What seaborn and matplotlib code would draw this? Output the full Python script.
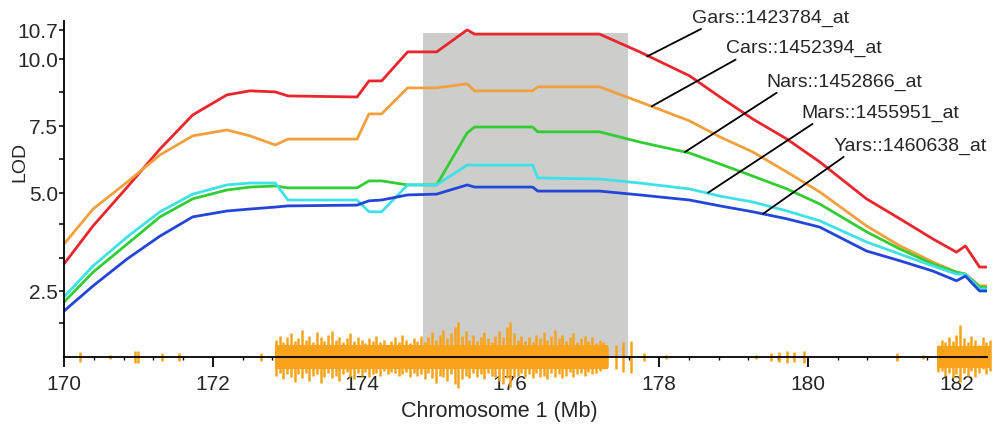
import numpy as np
import pandas as pd
import matplotlib
matplotlib.use("Agg")
import matplotlib.pyplot as plt
import matplotlib.transforms as mtransforms
import seaborn as sns

# posições no cromossomo 1 (Mb)
mb = [170.00, 170.39, 170.85, 171.29, 171.73, 172.19, 172.50, 172.84, 173.01, 173.94,
      174.10, 174.27, 174.62, 175.01, 175.42, 175.52, 176.30, 176.37, 177.20, 177.74,
      178.41, 178.82, 179.26, 179.72, 180.16, 180.79, 181.24, 181.68, 182.00, 182.12,
      182.31, 182.41]

# LOD de cada sonda
gars = [3.19, 4.16, 5.22, 6.64, 7.91, 8.66, 8.81, 8.77, 8.62, 8.58,
        9.18, 9.18, 10.17, 10.17, 10.70, 10.60, 10.60, 10.60, 10.60, 10.17,
        9.37, 8.58, 7.76, 7.01, 6.16, 4.85, 4.34, 3.83, 3.49, 3.65,
        3.11, 3.11]
cars = [3.70, 4.59, 5.41, 6.42, 7.13, 7.35, 7.13, 6.79, 7.01, 7.01,
        7.95, 7.95, 8.92, 8.92, 9.07, 8.81, 8.81, 8.96, 8.96, 8.40,
        7.69, 7.09, 6.53, 5.78, 5.04, 4.16, 3.65, 3.24, 2.98, 2.93,
        2.63, 2.63]
nars = [2.22, 2.98, 3.70, 4.39, 4.85, 5.11, 5.22, 5.26, 5.19, 5.19,
        5.45, 5.45, 5.30, 5.30, 7.24, 7.46, 7.46, 7.28, 7.28, 6.90,
        6.49, 6.08, 5.63, 5.15, 4.72, 4.01, 3.57, 3.19, 2.98, 2.93,
        2.60, 2.60]
mars = [2.35, 3.14, 3.88, 4.52, 4.97, 5.30, 5.37, 5.37, 4.82, 4.82,
        4.52, 4.52, 5.30, 5.30, 6.04, 6.04, 6.04, 5.56, 5.52, 5.37,
        5.15, 4.92, 4.77, 4.54, 4.29, 3.75, 3.44, 3.14, 2.93, 2.93,
        2.55, 2.55]
yars = [1.99, 2.63, 3.32, 3.90, 4.39, 4.54, 4.59, 4.64, 4.67, 4.69,
        4.80, 4.82, 4.95, 4.97, 5.30, 5.22, 5.22, 5.07, 5.07, 4.95,
        4.82, 4.67, 4.52, 4.34, 4.13, 3.52, 3.27, 3.01, 2.76, 2.88,
        2.50, 2.50]

probes = ["Gars::1423784_at", "Cars::1452394_at", "Nars::1452866_at",
          "Mars::1455951_at", "Yars::1460638_at"]
cores = ["#e8262c", "#f2a03d", "#33cc33", "#40e0e8", "#2446d8"]

# intervalo em cinza
qtl_ini, qtl_fim, qtl_topo = 174.83, 177.58, 10.62

# trilha de SNPs (amplitudes em pixels, acima / abaixo do eixo)
snp_bloco1_up = [14, 17, 12, 16, 19, 13, 15, 22, 14, 17, 12, 20, 16, 13, 18, 21, 14, 16,
                 12, 15, 19, 13, 16, 14, 11, 15, 13, 17, 12, 14, 10, 13, 16, 12, 18, 14,
                 11, 15, 13, 17, 12, 16, 20, 14, 18, 22, 15, 19, 24, 28, 17, 21, 14, 18,
                 13, 16, 20, 15, 12, 17, 21, 16, 24, 28, 19, 14, 17, 13, 16, 12, 18, 15,
                 20, 14, 17, 22, 15, 18, 13, 16, 19, 12, 15, 17, 13, 16, 11, 14, 12, 9]
snp_bloco1_down = [15, 13, 18, 14, 16, 20, 14, 17, 13, 19, 15, 14, 21, 16, 13, 17, 15, 19,
                   14, 12, 16, 18, 13, 15, 12, 16, 14, 13, 15, 11, 14, 12, 13, 15, 14, 12,
                   16, 13, 15, 14, 18, 13, 17, 21, 15, 16, 19, 14, 22, 25, 18, 15, 17, 13,
                   16, 14, 18, 13, 15, 16, 19, 22, 17, 24, 16, 15, 13, 16, 14, 17, 13, 16,
                   15, 18, 13, 16, 14, 17, 15, 12, 16, 14, 13, 15, 12, 14, 13, 11, 10, 8]
snp_bloco2_up = [10, 14, 12, 16, 13, 18, 26, 15, 12, 17, 14, 10, 16, 12, 14]
snp_bloco2_down = [12, 11, 15, 13, 17, 14, 20, 13, 15, 11, 16, 13, 10, 14, 11]
snp_avulso_mb = [170.22, 170.62, 170.95, 171.00, 171.32, 171.55, 172.65, 177.42, 177.52,
                 177.62, 177.80, 178.10, 179.30, 179.50, 179.62, 179.72, 179.82, 179.95,
                 181.20, 181.55]
snp_avulso_amp = [4, 2, 5, 5, 3, 3, 3, 10, 12, 13, 3, 2, 2, 3, 4, 5, 4, 5, 3, 2]
# núcleo contínuo dos blocos densos
nucleo_ini = [172.84, 181.74]
nucleo_fim = [177.31, 182.46]
nucleo_amp = [10, 9]

df = pd.DataFrame({
    "mb": mb * 5,
    "lod": gars + cars + nars + mars + yars,
    "probe": [p for p in probes for _ in mb],
})

# escala do eixo LOD (não linear, como no original)
lod_ref = [-2.0, 2.5, 5.0, 7.5, 10.0, 10.7, 13.0]
pos_ref = [-110.4, 66, 164, 231, 298, 327, 422.2]


def fwd(v):
    return np.interp(v, lod_ref, pos_ref)


def inv(p):
    return np.interp(p, pos_ref, lod_ref)


sns.set_style("ticks")
plt.rcParams["font.family"] = ["Liberation Sans", "DejaVu Sans"]

fig = plt.figure(figsize=(10.01, 4.27), dpi=100)
ax = fig.add_axes([0.064, 0.1616, 0.922, 0.787])
ax.set_yscale("function", functions=(fwd, inv))

ax.fill_between([qtl_ini, qtl_fim], 0.816, qtl_topo, color="#cdcecc", lw=0, zorder=0.5)

sns.lineplot(data=df, x="mb", y="lod", hue="probe", hue_order=probes,
             palette=dict(zip(probes, cores)), estimator=None, lw=2.0,
             legend=False, ax=ax, zorder=2)

# trilha de SNPs colada no eixo x
px = 1.0 / 270  # pixel -> fração do eixo
cor_snp = "#f8a31a"
snp_mb = list(np.round(np.arange(172.85, 177.31, 0.05), 2)) + \
    list(np.round(np.arange(181.75, 182.46, 0.05), 2)) + snp_avulso_mb
snp_up = snp_bloco1_up + snp_bloco2_up + snp_avulso_amp
snp_down = snp_bloco1_down + snp_bloco2_down + snp_avulso_amp
trans = mtransforms.blended_transform_factory(ax.transData, ax.transAxes)
ax.vlines(snp_mb, [-d * px for d in snp_down], [u * px for u in snp_up],
          colors=cor_snp, lw=1.8, transform=trans, clip_on=False, zorder=1.5)
for a, b, h in zip(nucleo_ini, nucleo_fim, nucleo_amp):
    ax.fill_between([a, b], -h * px, h * px, color=cor_snp, lw=0,
                    transform=trans, clip_on=False, zorder=1.5)

ax.set_xlim(170, 182.41)
ax.set_ylim(0.816, 10.917)

ax.set_xticks([170, 172, 174, 176, 178, 180, 182])
ax.set_xticks(np.arange(170, 182.41, 0.4), minor=True)
ax.set_yticks([2.5, 5.0, 7.5, 10.0, 10.7])
ax.set_yticklabels(["2.5", "5.0", "7.5", "10.0", "10.7"])
ax.set_yticks([1.68, 3.35, 4.2, 6.25, 8.75], minor=True)

ax.tick_params(axis="x", which="major", length=7, width=1.3, labelsize=15, pad=5, color="black")
ax.tick_params(axis="x", which="minor", length=2.5, width=1.0, color="black")
ax.tick_params(axis="y", which="both", length=3.5, width=1.1, labelsize=15, pad=1, color="black")

for s in ["top", "right"]:
    ax.spines[s].set_visible(False)
for s in ["left", "bottom"]:
    ax.spines[s].set_linewidth(1.3)
    ax.spines[s].set_color("black")
    ax.spines[s].set_zorder(3)

ax.set_xlabel("Chromosome 1 (Mb)", fontsize=15.5)
ax.set_ylabel("LOD", fontsize=14)
ax.xaxis.set_label_coords(0.472, -0.128)
ax.yaxis.set_label_coords(-0.039, 0.583)

# rótulos das sondas com linhas de chamada
pontos = [(177.84, 10.06), (177.90, 8.23), (178.35, 6.53), (178.66, 5.01), (179.40, 4.47)]
textos = [(178.44, 11.01), (178.90, 10.27), (179.44, 9.18), (179.92, 8.02), (180.34, 6.79)]
for nome, xy, xyt in zip(probes, pontos, textos):
    ax.annotate(nome, xy=xy, xytext=xyt, fontsize=14, ha="left", va="center",
                annotation_clip=False, zorder=4,
                arrowprops=dict(arrowstyle="-", color="black", lw=1.3,
                                relpos=(0.1, 0.0), shrinkA=0, shrinkB=0))

fig.savefig("out.png", dpi=100, facecolor="white")
